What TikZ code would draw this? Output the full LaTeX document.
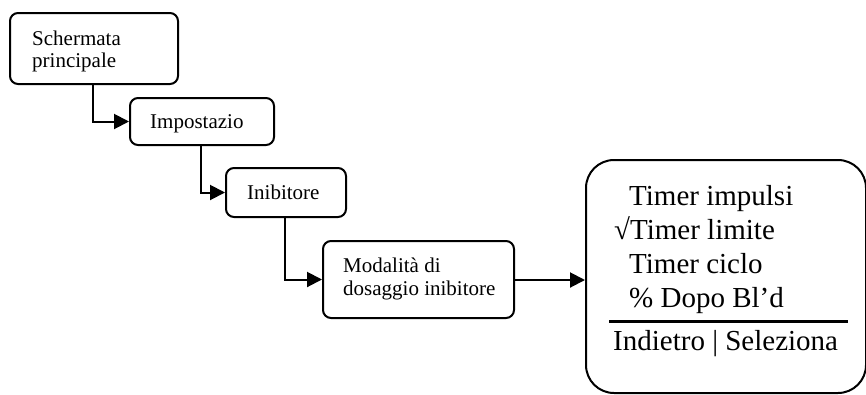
\documentclass[tikz,border=0pt]{standalone}
\usepackage{fontspec}
\setmainfont{Liberation Serif}
\usetikzlibrary{arrows.meta}

\tikzset{
  screen/.style={draw, line width=2pt, rounded corners=8pt, inner sep=0pt, anchor=north west},
  bigscreen/.style={draw, line width=2pt, rounded corners=28pt, inner sep=0pt, anchor=north west},
  lbl/.style={anchor=base west, inner sep=0pt, font=\fontsize{21}{24}\selectfont},
  menu/.style={anchor=base west, inner sep=0pt, font=\fontsize{29}{34}\selectfont},
  link/.style={line width=2pt, -{Triangle[length=15pt,width=15pt]}},
}

\begin{document}
\begin{tikzpicture}[x=1pt, y=-1pt]
  \useasboundingbox (0,0) rectangle (866,394);

  % menu screens
  \node[screen, minimum width=168pt, minimum height=71pt] (b1) at (9,12) {};
  \node[screen, minimum width=144pt, minimum height=47pt] (b2) at (129,97) {};
  \node[screen, minimum width=120pt, minimum height=49pt] (b3) at (225,167) {};
  \node[screen, minimum width=191pt, minimum height=77pt] (b4) at (322,240) {};
  \node[bigscreen, minimum width=280pt, minimum height=233pt] (b5) at (585,159) {};

  % captions
  \node[lbl] (t1a) at (32,45) {Schermata};
  \node[lbl] (t1b) at (32,67) {principale};
  \node[lbl] (t2) at (150,128) {Impostazio};
  \node[lbl] (t3) at (247,199) {Inibitore};
  \node[lbl] (t4a) at (343,272) {Modalità di};
  \node[lbl] (t4b) at (343,295) {dosaggio inibitore};

  % option list of the last screen
  \node[menu] (m1) at (629,205) {Timer impulsi};
  \node[menu] (m2) at (614,239) {√Timer limite};
  \node[menu] (m3) at (629,273) {Timer ciclo};
  \node[menu] (m4) at (629,307) {\% Dopo Bl’d};
  \coordinate (ruleL) at (609,321);
  \coordinate (ruleR) at (848,321);
  \draw[line width=3pt] (ruleL) -- (ruleR);
  \node[menu] (m5) at (613,350) {Indietro | Seleziona};

  % navigation links
  \draw[link] ([xshift=84pt]b1.south west) |- (b2.west);
  \draw[link] ([xshift=72pt]b2.south west) |- (b3.west);
  \draw[link] ([xshift=60pt]b3.south west) |- (b4.west);
  \coordinate (jog) at (550,280);
  \draw[link] (b4.east) -- (b4.east -| jog) -- (jog) -- (jog -| b5.west);
\end{tikzpicture}
\end{document}
